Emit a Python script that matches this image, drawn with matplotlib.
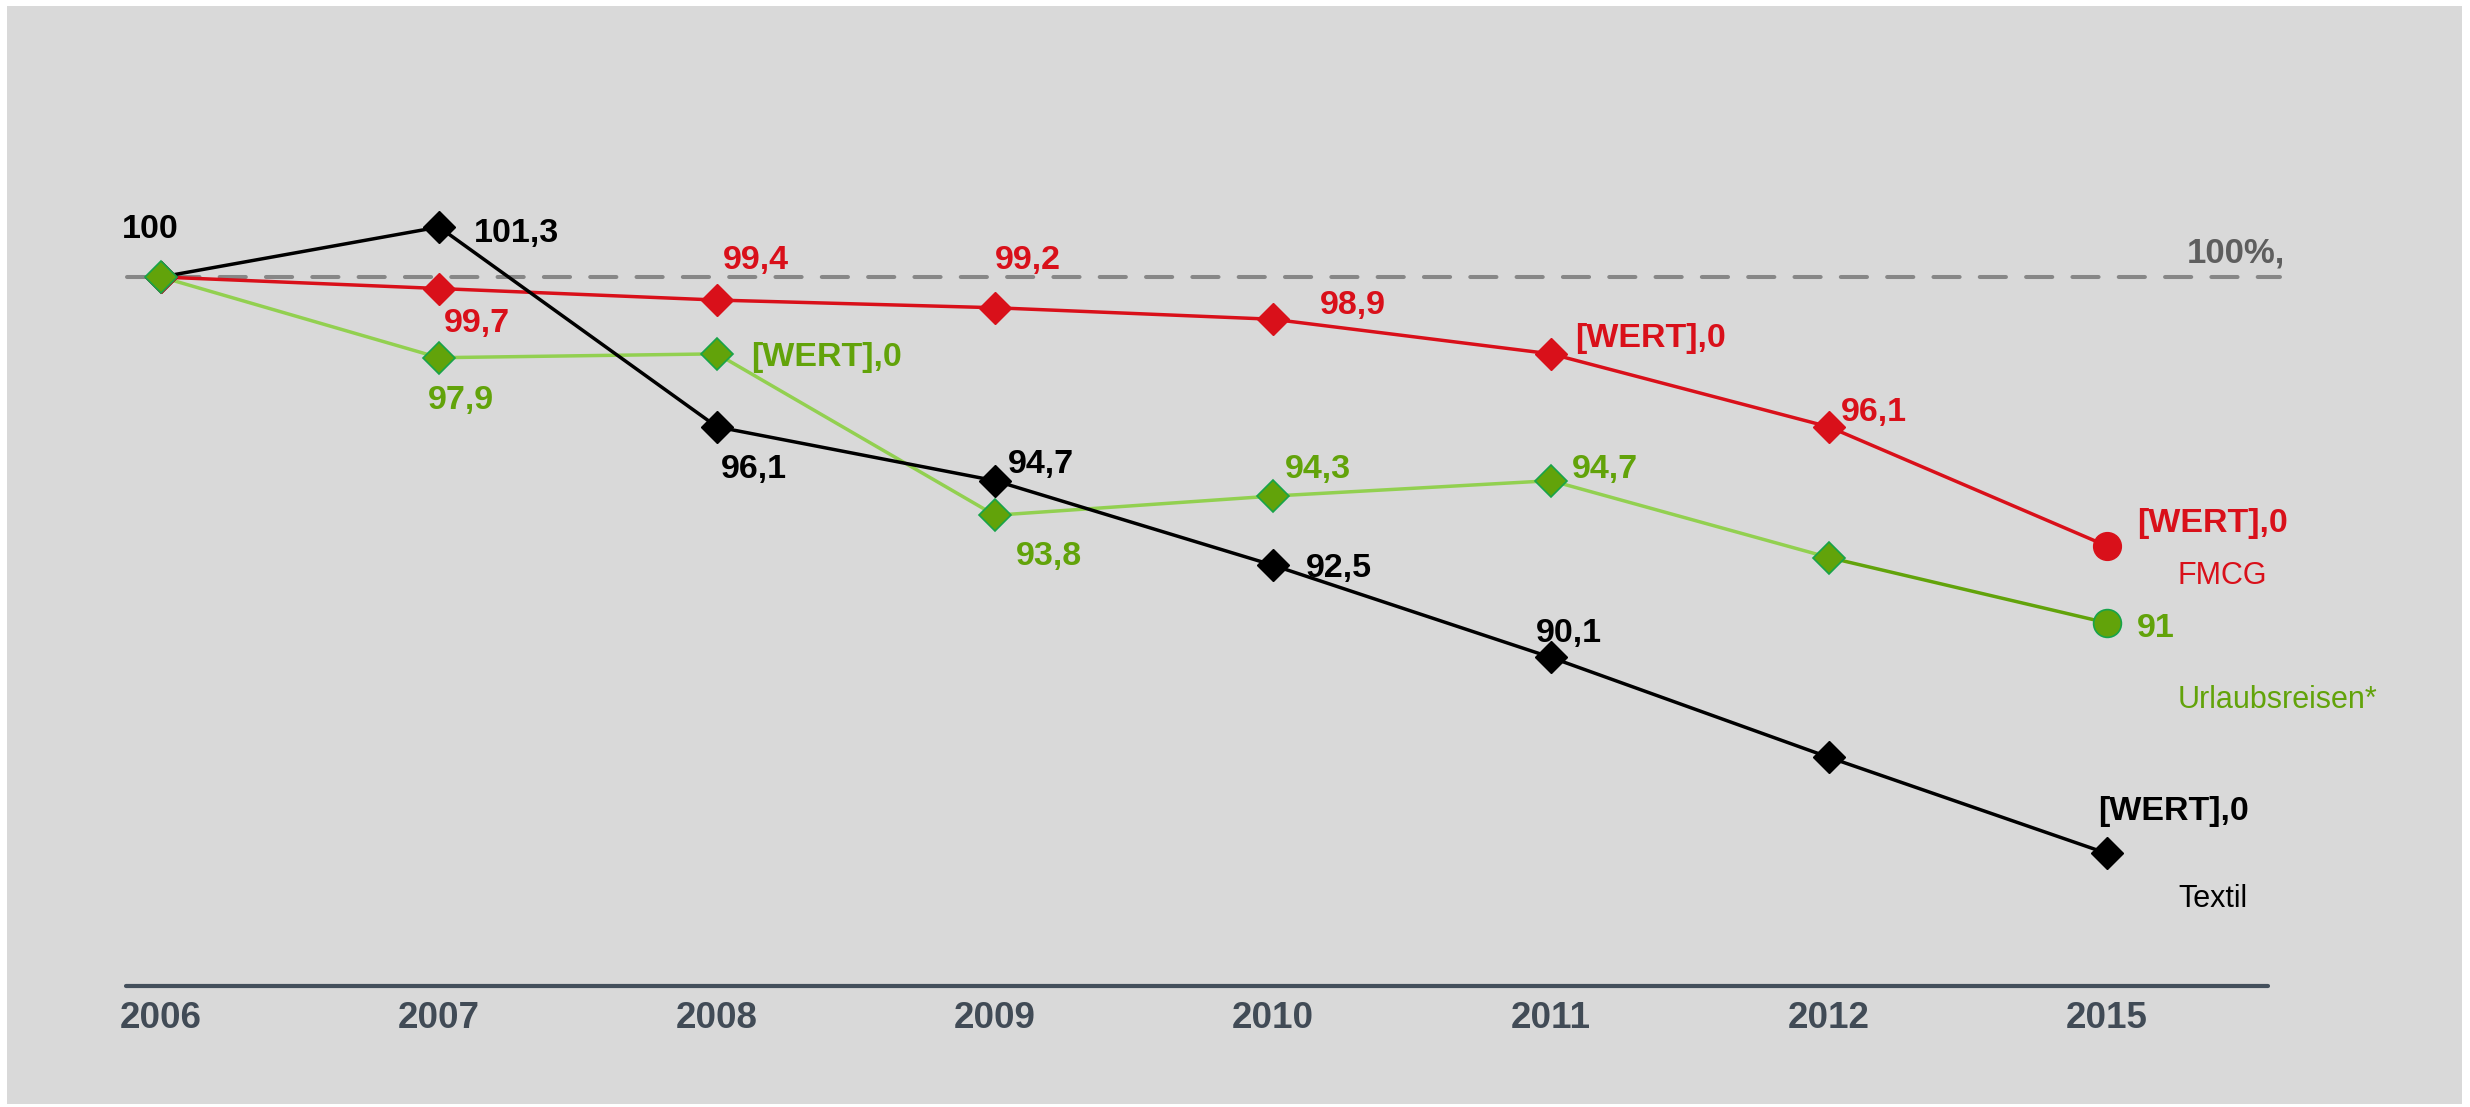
import matplotlib
matplotlib.use("Agg")
import matplotlib.pyplot as plt
from matplotlib.patches import Rectangle

plt.rcParams['font.family'] = ['Liberation Sans', 'DejaVu Sans']

years = ["2006", "2007", "2008", "2009", "2010", "2011", "2012", "2015"]
textil = [100, 101.3, 96.1, 94.7, 92.5, 90.1, 87.5, 85.0]
fmcg = [100, 99.7, 99.4, 99.2, 98.9, 98.0, 96.1, 93.0]
urlaub = [100, 97.9, 98.0, 93.8, 94.3, 94.7, 92.7, 91.0]

textil_labels = ["100", "101,3", "96,1", "94,7", "92,5", "90,1", None, "[WERT],0"]
fmcg_labels = [None, "99,7", "99,4", "99,2", "98,9", "[WERT],0", "96,1", "[WERT],0"]
urlaub_labels = [None, "97,9", "[WERT],0", "93,8", "94,3", "94,7", None, "91"]
series_names = ["Textil", "FMCG", "Urlaubsreisen*"]
reference_label = "100%,"
reference_value = 100

BLACK = "#000000"
RED = "#d9101a"
GREEN_TXT = "#62a30a"
GREEN_LIGHT = "#92d050"
GREEN_DARK = "#62a30a"
GREEN_EDGE = "#17a34a"
TICK = "#414b56"

W, H = 2470, 1107
DPI = 100
fig = plt.figure(figsize=(W / DPI, H / DPI), dpi=DPI, facecolor="white")
fig.patches.append(Rectangle((7 / W, 1 - 1104 / H), (2462 - 7) / W, (1104 - 6) / H,
                             transform=fig.transFigure, facecolor="#d9d9d9",
                             edgecolor="none", zorder=-10))

ax_left, ax_right = 126, 2268
ax_top, ax_bottom = 6, 986
ax = fig.add_axes([ax_left / W, 1 - ax_bottom / H, (ax_right - ax_left) / W,
                   (ax_bottom - ax_top) / H])
ax.set_facecolor("none")
ax.set_zorder(2)

x0_px, dx_px = 161, 278
y100_px, unit_px = 277, 38.43
ax.set_xlim((ax_left - x0_px) / dx_px, (ax_right - x0_px) / dx_px)
ax.set_ylim(100 - (ax_bottom - y100_px) / unit_px, 100 + (y100_px - ax_top) / unit_px)

for s in ["top", "left", "right"]:
    ax.spines[s].set_visible(False)
ax.spines["bottom"].set_color("#44505c")
ax.spines["bottom"].set_linewidth(3.0)
ax.spines["bottom"].set_capstyle("round")
ax.set_yticks([])
xs = list(range(len(years)))
ax.set_xticks(xs)
ax.set_xticklabels(years, fontsize=26.5, fontweight="bold", color=TICK)
ax.tick_params(axis="x", length=0, pad=11)

# reference dashed line
ax.hlines(reference_value, (127 - x0_px) / dx_px, (2280 - x0_px) / dx_px,
          colors="#878787", linewidth=2.9, linestyles=(0, (6.5, 5.0)),
          capstyle="round", clip_on=False, zorder=1)
ax.annotate(reference_label, xy=((2285 - x0_px) / dx_px, reference_value),
            xytext=(0, 14 * 0.72), textcoords="offset points", ha="right",
            va="baseline", fontsize=25, fontweight="bold", color="#5e5e5e",
            annotation_clip=False)

lw = 2.5
ms_d = 16
ms_o = 20
# lines
ax.plot(xs, fmcg, color=RED, lw=lw, zorder=2, solid_capstyle="round")
ax.plot(xs[:7], urlaub[:7], color=GREEN_LIGHT, lw=lw, zorder=2)
ax.plot(xs[6:], urlaub[6:], color=GREEN_DARK, lw=lw, zorder=2)
ax.plot(xs, textil, color=BLACK, lw=lw, zorder=2.5)
# markers
ax.plot(xs, textil, ls="none", marker="D", ms=ms_d, color=BLACK, zorder=3)
ax.plot(xs[:-1], fmcg[:-1], ls="none", marker="D", ms=ms_d, color=RED, zorder=3.1)
ax.plot(xs[-1:], fmcg[-1:], ls="none", marker="o", ms=ms_o, color=RED, zorder=3.1)
ax.plot(xs[:-1], urlaub[:-1], ls="none", marker="D", ms=ms_d, markerfacecolor=GREEN_DARK,
        markeredgecolor=GREEN_EDGE, mew=1.2, zorder=3.2)
ax.plot(xs[-1:], urlaub[-1:], ls="none", marker="o", ms=ms_o, markerfacecolor=GREEN_DARK,
        markeredgecolor=GREEN_EDGE, mew=1.2, zorder=3.2)

# label offsets in pixels: (dx, baseline dy up, ha)
textil_off = [(-11, 39, "center"), (35, -15, "left"), (4, -51, "left"), (13, 8, "left"),
              (33, -12, "left"), (18, 15, "center"), None, (67, 33, "center")]
fmcg_off = [None, (5, -43, "left"), (6, 31, "left"), (0, 39, "left"), (47, 5, "left"),
            (24, 7, "left"), (12, 6, "left"), (30, 14, "left")]
urlaub_off = [None, (-11, -51, "left"), (34, -12, "left"), (21, -50, "left"),
              (12, 18, "left"), (21, 3, "left"), None, (30, -14, "left")]

def put_labels(vals, labels, offs, color):
    for i, (v, lab, off) in enumerate(zip(vals, labels, offs)):
        if lab is None or off is None:
            continue
        dxp, dyp, ha = off
        ax.annotate(lab, xy=(i, v), xytext=(dxp * 0.72, dyp * 0.72),
                    textcoords="offset points", ha=ha, va="baseline",
                    fontsize=24.5, fontweight="bold", color=color,
                    annotation_clip=False, zorder=5)

put_labels(textil, textil_labels, textil_off, BLACK)
put_labels(fmcg, fmcg_labels, fmcg_off, RED)
put_labels(urlaub, urlaub_labels, urlaub_off, GREEN_TXT)

# series names next to the last point
for vals, name, color, dyp in [(textil, series_names[0], BLACK, -54),
                               (fmcg, series_names[1], RED, -38),
                               (urlaub, series_names[2], GREEN_TXT, -85)]:
    ax.annotate(name, xy=(xs[-1], vals[-1]), xytext=(71 * 0.72, dyp * 0.72),
                textcoords="offset points", ha="left", va="baseline",
                fontsize=22, color=color, annotation_clip=False)

fig.savefig("out.png", dpi=DPI, facecolor="white")
